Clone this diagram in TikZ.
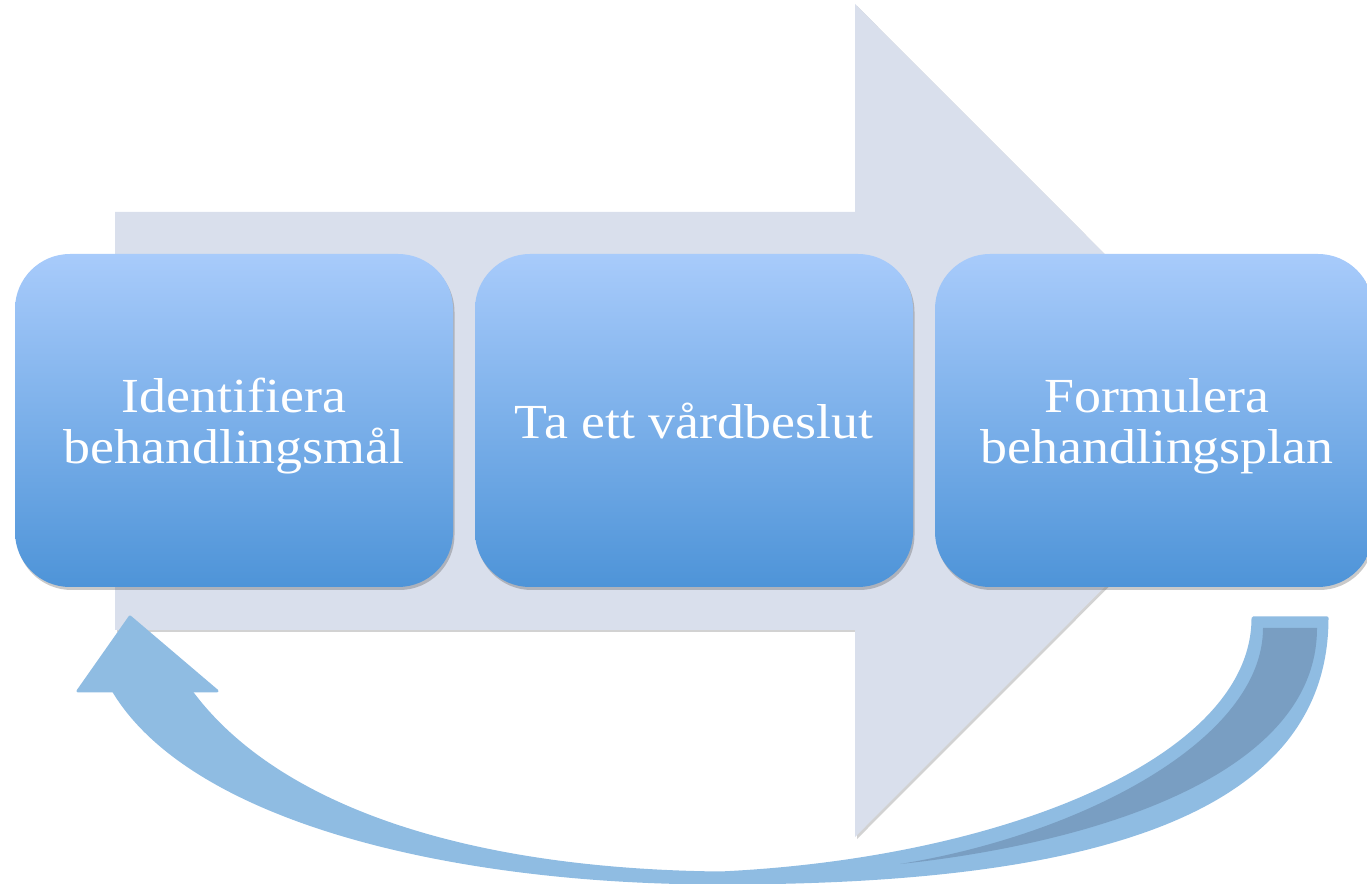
\documentclass[tikz,border=0pt]{standalone}
\usepackage{fontspec}
\newfontfamily\boxfont[FakeStretch=1.1]{Liberation Serif}
\usetikzlibrary{shadows}
\definecolor{bgarrow}{RGB}{217,223,236}
\definecolor{boxtop}{RGB}{168,203,251}
\definecolor{boxbot}{RGB}{78,148,216}
\definecolor{ribbon}{RGB}{143,188,226}
\definecolor{ribbondark}{RGB}{121,158,194}
\tikzset{
  stepbox/.style={rectangle, rounded corners=55pt, minimum width=438pt, minimum height=333pt,
    inner sep=0pt, top color=boxtop, bottom color=boxbot, text=white, align=center,
    font=\boxfont\fontsize{49}{51}\selectfont,
    drop shadow={shadow xshift=1.5pt, shadow yshift=-3pt, opacity=0.3, fill=black!70}},
  bigarrow/.style={fill=bgarrow, drop shadow={shadow xshift=2pt, shadow yshift=-2pt, opacity=0.25, fill=black!70}},
  ribbonfill/.style={fill=ribbon, draw=ribbon, line width=3pt, line join=round},
  ribbondarkfill/.style={fill=ribbondark}
}
\begin{document}
\begin{tikzpicture}[x=1pt,y=1pt]
\useasboundingbox (0,0) rectangle (1367,883);
% background arrow
\path[bigarrow] (115,253) -- (115,671) -- (855,671) -- (855,879) -- (1271,462.5) -- (855,46) -- (855,253) -- cycle;
% boxes
\node[stepbox] (b1) at (234,462.5) {};
\node[stepbox] (b2) at (694,462.5) {};
\node[stepbox] (b3) at (1154,462.5) {};
\node[text=white, align=center, font=\boxfont\fontsize{49}{51}\selectfont] (t1) at (234,457) {Identifiera\\behandlingsmål};
\node[text=white, align=center, font=\boxfont\fontsize{49}{51}\selectfont] (t2) at (694,462) {Ta ett vårdbeslut};
\node[text=white, align=center, font=\boxfont\fontsize{49}{51}\selectfont] (t3) at (1157,457) {Formulera\\behandlingsplan};
% curved return arrow
\coordinate (tailL) at (1253,265);
\coordinate (tailR) at (1327,265);
\coordinate (headL) at (113,193);
\coordinate (headR) at (190,193);
\path[ribbonfill] (headL) .. controls (190,63) and (450,0) .. (720,0)
  .. controls (1050,0) and (1327,53) .. (tailR) -- (tailL)
  .. controls (1253,123) and (1000,23) .. (720,10)
  .. controls (450,13) and (270,83) .. (headR) -- cycle;
\coordinate (tip) at (130,266);
\path[ribbonfill] (tip) -- (78,192) -- (217,192) -- cycle;
\path[ribbondarkfill] (1263,255) .. controls (1263,143) and (1080,48) .. (900,19)
  .. controls (1080,38) and (1317,103) .. (1317,255) -- cycle;
\end{tikzpicture}
\end{document}
